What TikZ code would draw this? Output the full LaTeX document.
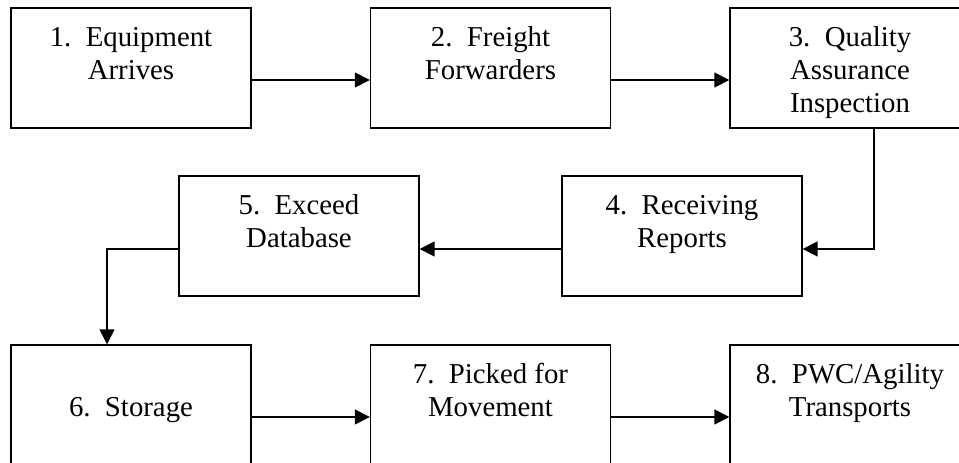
\documentclass[tikz,border=0pt]{standalone}
\usepackage{fontspec}
\setmainfont{Liberation Serif}
\usetikzlibrary{arrows.meta}
\usetikzlibrary{positioning}

\newcommand{\stagetext}[1]{\parbox[c][120pt][t]{240pt}{\centering\fontsize{28.8}{33}\selectfont\rule{0pt}{38pt}#1}}

\begin{document}
\begin{tikzpicture}[x=1pt, y=-1pt,
    stage/.style={draw, line width=1.4pt, inner sep=0pt},
    flow/.style={line width=1.7pt, -{Triangle[length=15pt, width=15pt]}}]
       \useasboundingbox (0,0) rectangle (959,463);
       \clip (0,0) rectangle (959,463);

       \node[stage] (equip)  at (131,68)   {\stagetext{1.\ \ Equipment\\Arrives}};
       \node[stage] (fwd)    at (490.5,68) {\stagetext{2.\ \ Freight\\Forwarders}};
       \node[stage] (qa)     at (850,68)   {\stagetext{3.\ \ Quality\\Assurance\\Inspection}};
       \node[stage] (recv)   at (682,236)  {\stagetext{4.\ \ Receiving\\Reports}};
       \node[stage] (exceed) at (299,236)  {\stagetext{5.\ \ Exceed\\Database}};
       \node[stage] (store)  at (131,405)  {\stagetext{\\6.\ \ Storage}};
       \node[stage] (pick)   at (490.5,405) {\stagetext{7.\ \ Picked for\\Movement}};
       \node[stage] (ship)   at (850,405)  {\stagetext{8.\ \ PWC/Agility\\Transports}};

       \draw[flow] ([yshift=-12pt]equip.east) -- ([yshift=-12pt]fwd.west);
       \draw[flow] ([yshift=-12pt]fwd.east) -- ([yshift=-12pt]qa.west);
       \draw[flow] ([xshift=24pt]qa.south) |- ([yshift=-13pt]recv.east);
       \draw[flow] ([yshift=-13pt]recv.west) -- ([yshift=-13pt]exceed.east);
       \draw[flow] ([yshift=-13pt]exceed.west) -| ([xshift=-24pt]store.north);
       \draw[flow] ([yshift=-12pt]store.east) -- ([yshift=-12pt]pick.west);
       \draw[flow] ([yshift=-12pt]pick.east) -- ([yshift=-12pt]ship.west);
\end{tikzpicture}
\end{document}
